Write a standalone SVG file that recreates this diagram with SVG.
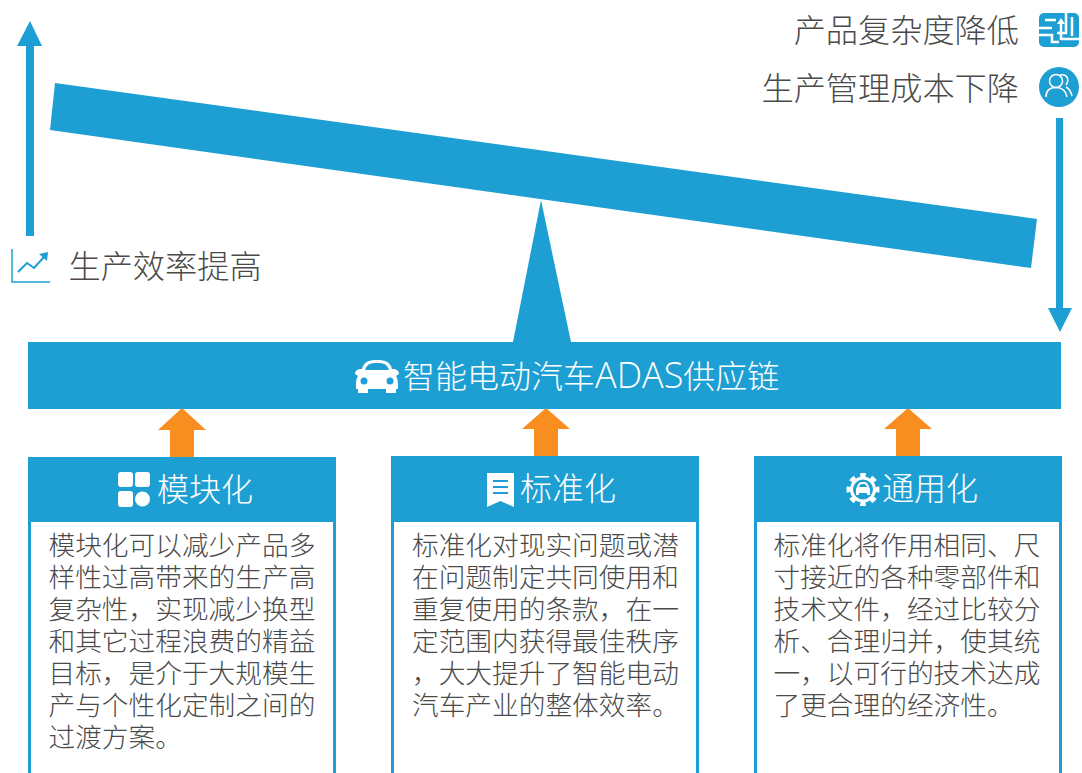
<svg xmlns="http://www.w3.org/2000/svg" width="1082" height="773" viewBox="0 0 1082 773">
<style>
text{font-family:"Open Sans","Noto Sans CJK SC",sans-serif;font-weight:300}
.t{font-size:32.2px;fill:#4a4a4a}
.w{font-size:32px;fill:#fff}
.b{font-size:26.7px;fill:#4a4a4a}
.blue{fill:#1e9fd4}
.org{fill:#f98e20}
.body{fill:#fff;stroke:#1e9fd4;stroke-width:3}
.ic{fill:none;stroke:#fff;stroke-width:1.500}
</style>
<rect width="1082" height="773" fill="#fff"/>
<g id="connectors">
<path class="blue" d="M26 236V46H17L30 21L42 46H34V236Z"/>
<path class="blue" d="M1056 118H1063V308H1072L1060 332L1048 308H1056Z"/>
<path class="org" d="M182 408L206 430H194V457H170V430H158Z"/>
<path class="org" d="M546 408L570 429H558V456H534V429H522Z"/>
<path class="org" d="M908 408L932 429H920V456H896V429H884Z"/>
</g>
<g id="lever">
<path class="blue" d="M55 83L1037 219L1031 268L50 130Z"/>
<path class="blue" d="M541 200L571 342H513Z"/>
</g>
<g id="label-efficiency">
<path d="M12 249V282H50" fill="none" stroke="#1e9fd4" stroke-width="1.500"/>
<path d="M18 272L27 263L34 268L44 257" fill="none" stroke="#1e9fd4" stroke-width="2"/>
<path class="blue" d="M39 254L48 252L47 261Z"/>
<text class="t" x="68.500" y="278">生产效率提高</text>
</g>
<g id="label-complexity">
<rect class="blue" x="1039" y="13" width="40" height="34" rx="5"/>
<path d="M1045 20H1056M1039 28H1052M1039 35H1052V42H1059M1061 40V22M1066 13V33H1057M1072 17V36M1061 39H1079" fill="none" stroke="#fff" stroke-width="2.500"/>
<path d="M1061 18L1065 24H1057Z" fill="#fff"/>
<text class="t" x="1019" y="42" text-anchor="end">产品复杂度降低</text>
</g>
<g id="label-cost">
<circle class="blue" cx="1059" cy="87" r="20"/>
<circle class="ic" cx="1056" cy="81" r="6.500"/>
<path class="ic" d="M1046 97C1046 90 1050 87.500 1056 87.500C1062 87.500 1066 91 1067 97M1060 75C1067 74 1070 79 1066 85M1066 87C1070 89 1071 92 1072 96"/>
<text class="t" x="1019" y="100" text-anchor="end">生产管理成本下降</text>
</g>
<g id="supply-chain">
<rect class="blue" x="28" y="342" width="1033" height="67"/>
<path fill="#fff" d="M362 369C364 362 368 360 377 360C386 360 390 362 392 369C397 369 399 371 399 374L396 376C398 379 398 382 398 389H396V393H386V389H368V393H358V389H356C356 382 356 379 358 376L355 374C355 371 357 369 362 369Z"/>
<path d="M365 370C367 364 370 363 377 363C384 363 387 364 389 370Z" class="blue"/>
<circle cx="364" cy="381" r="3.500" class="blue"/>
<circle cx="390" cy="381" r="3.500" class="blue"/>
<text class="w" x="403" y="388">智能电动汽车<tspan font-size="36">ADAS</tspan>供应链</text>
</g>
<g id="card-modular">
<rect class="body" x="29.500" y="480" width="305" height="300"/>
<rect class="blue" x="28" y="457" width="308" height="65"/>
<rect x="118" y="472" width="15" height="15" rx="3" fill="#fff"/>
<rect x="135" y="472" width="15" height="15" rx="3" fill="#fff"/>
<rect x="118" y="491" width="15" height="16" rx="3" fill="#fff"/>
<circle cx="142.500" cy="499" r="7.500" fill="#fff"/>
<text class="w" x="157" y="501">模块化</text>
<text class="b"><tspan x="48.500" y="555">模块化可以减少产品多</tspan><tspan x="48.500" y="587">样性过高带来的生产高</tspan><tspan x="48.500" y="619">复杂性，实现减少换型</tspan><tspan x="48.500" y="651">和其它过程浪费的精益</tspan><tspan x="48.500" y="683">目标，是介于大规模生</tspan><tspan x="48.500" y="715">产与个性化定制之间的</tspan><tspan x="48.500" y="747">过渡方案。</tspan></text>
</g>
<g id="card-standard">
<rect class="body" x="392.500" y="480" width="305" height="300"/>
<rect class="blue" x="391" y="456" width="308" height="66"/>
<path fill="#fff" d="M487 473H514V507L500.500 501L487 507Z"/>
<path d="M493 481H508M493 487H508M493 493H508" stroke="#1e9fd4" stroke-width="2" fill="none"/>
<text class="w" x="520" y="500">标准化</text>
<text class="b"><tspan x="412" y="555">标准化对现实问题或潜</tspan><tspan x="412" y="587">在问题制定共同使用和</tspan><tspan x="412" y="619">重复使用的条款，在一</tspan><tspan x="412" y="651">定范围内获得最佳秩序</tspan><tspan x="412" y="683">，大大提升了智能电动</tspan><tspan x="412" y="715">汽车产业的整体效率。</tspan></text>
</g>
<g id="card-general">
<rect class="body" x="755.500" y="480" width="305" height="300"/>
<rect class="blue" x="754" y="456" width="308" height="66"/>
<circle cx="863" cy="489.500" r="13" fill="#fff"/>
<circle cx="863" cy="489.500" r="14.500" fill="none" stroke="#fff" stroke-width="4" pathLength="96" stroke-dasharray="6 6" stroke-dashoffset="3"/>
<circle cx="863" cy="489.500" r="10" class="blue"/>
<path d="M857 487C858 483 860 482 863 482C866 482 868 483 869 487L870 489V495H867V493H859V495H856V489Z" fill="#fff"/>
<path d="M859 487C860 484 861 484 863 484C865 484 866 484 867 487Z" class="blue"/>
<text class="w" x="882" y="500">通用化</text>
<text class="b"><tspan x="773.500" y="555">标准化将作用相同、尺</tspan><tspan x="773.500" y="587">寸接近的各种零部件和</tspan><tspan x="773.500" y="619">技术文件，经过比较分</tspan><tspan x="773.500" y="651">析、合理归并，使其统</tspan><tspan x="773.500" y="683">一，以可行的技术达成</tspan><tspan x="773.500" y="715">了更合理的经济性。</tspan></text>
</g>
</svg>
